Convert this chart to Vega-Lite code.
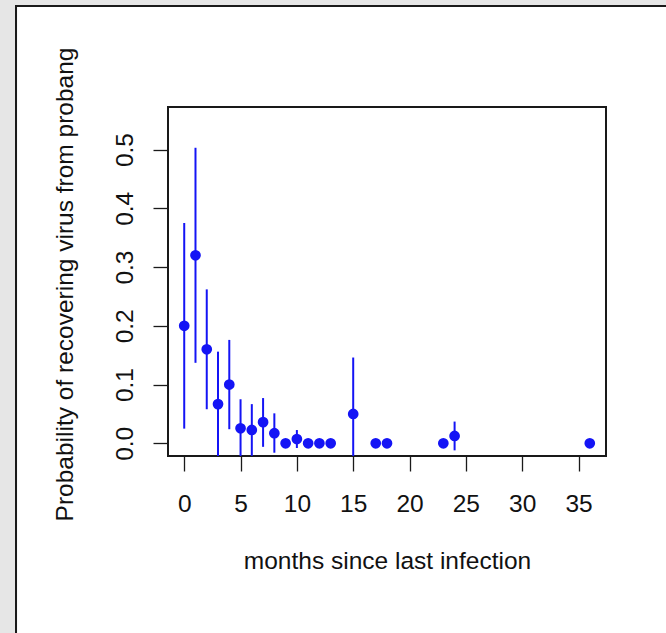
{
  "$schema": "https://vega.github.io/schema/vega-lite/v6.json",
  "width": 438,
  "height": 349,
  "autosize": {"type": "none"},
  "padding": {"left": 168, "top": 107, "right": 60, "bottom": 177},
  "background": "#e6e6e6",
  "config": {
    "view": {"stroke": null},
    "font": "Liberation Sans",
    "axis": {
      "grid": false,
      "domain": false,
      "tickColor": "#1a1a1a",
      "tickWidth": 1.3,
      "tickSize": 15,
      "labelFont": "Liberation Sans",
      "labelFontSize": 24.5,
      "labelColor": "#111111",
      "titleFont": "Liberation Sans",
      "titleFontSize": 24.5,
      "titleFontWeight": "normal",
      "titleColor": "#111111"
    }
  },
  "data": {
    "values": [
      {"month": 0, "p": 0.2, "lo": 0.025, "hi": 0.375},
      {"month": 1, "p": 0.32, "lo": 0.137, "hi": 0.503},
      {"month": 2, "p": 0.16, "lo": 0.058, "hi": 0.262},
      {"month": 3, "p": 0.0667, "lo": -0.022, "hi": 0.156},
      {"month": 4, "p": 0.1, "lo": 0.024, "hi": 0.176},
      {"month": 5, "p": 0.0256, "lo": -0.024, "hi": 0.075},
      {"month": 6, "p": 0.0227, "lo": -0.0213, "hi": 0.0667},
      {"month": 7, "p": 0.036, "lo": -0.006, "hi": 0.077},
      {"month": 8, "p": 0.0172, "lo": -0.016, "hi": 0.051},
      {"month": 9, "p": 0, "lo": 0, "hi": 0},
      {"month": 10, "p": 0.0073, "lo": -0.008, "hi": 0.0226},
      {"month": 11, "p": 0, "lo": 0, "hi": 0},
      {"month": 12, "p": 0, "lo": 0, "hi": 0},
      {"month": 13, "p": 0, "lo": 0, "hi": 0},
      {"month": 15, "p": 0.05, "lo": -0.046, "hi": 0.146},
      {"month": 17, "p": 0, "lo": 0, "hi": 0},
      {"month": 18, "p": 0, "lo": 0, "hi": 0},
      {"month": 23, "p": 0, "lo": 0, "hi": 0},
      {"month": 24, "p": 0.0125, "lo": -0.012, "hi": 0.037},
      {"month": 36, "p": 0, "lo": 0, "hi": 0}
    ]
  },
  "layer": [
    {
      "description": "white figure panel with its dark outline",
      "mark": {"type": "rect", "fill": "white", "stroke": "#1a1a1a", "strokeWidth": 2, "clip": false},
      "encoding": {
        "x": {"datum": -14.93, "type": "quantitative", "title": "months since last infection", "scale": {"domain": [-1.44, 37.44], "nice": false, "zero": false}, "axis": {"zindex": 1}},
        "x2": {"datum": 46},
        "y": {"datum": 0.7442, "type": "quantitative", "title": "Probability of recovering virus from probang", "scale": {"domain": [-0.0216, 0.5724], "nice": false, "zero": false}, "axis": {"zindex": 1}},
        "y2": {"datum": -0.4}
      }
    },
    {
      "description": "box around the plotting region",
      "mark": {"type": "rect", "fill": null, "fillOpacity": 0, "stroke": "#1a1a1a", "strokeWidth": 1.5, "clip": false},
      "encoding": {
        "x": {"datum": -1.44, "type": "quantitative", "title": "months since last infection", "axis": {"zindex": 1}},
        "x2": {"datum": 37.44},
        "y": {"datum": -0.0216, "type": "quantitative", "title": "Probability of recovering virus from probang", "axis": {"zindex": 1}},
        "y2": {"datum": 0.5724}
      }
    },
    {
      "mark": {"type": "rule", "color": "#1414f5", "strokeWidth": 2, "clip": true},
      "encoding": {
        "x": {"field": "month", "type": "quantitative", "title": "months since last infection", "axis": {"zindex": 1}},
        "y": {"field": "lo", "type": "quantitative", "title": "Probability of recovering virus from probang", "axis": {"zindex": 1}},
        "y2": {"field": "hi"}
      }
    },
    {
      "mark": {"type": "circle", "color": "#1414f5", "opacity": 1, "size": 115},
      "encoding": {
        "x": {
          "field": "month",
          "type": "quantitative",
          "title": "months since last infection",
          "axis": {
            "zindex": 1,
            "values": [0, 5, 10, 15, 20, 25, 30, 35],
            "labelBaseline": "middle",
            "labelPadding": 33,
            "titleBaseline": "alphabetic",
            "titleY": 112.5
          }
        },
        "y": {
          "field": "p",
          "type": "quantitative",
          "title": "Probability of recovering virus from probang",
          "axis": {
            "zindex": 1,
            "values": [0, 0.1, 0.2, 0.3, 0.4, 0.5],
            "format": ".1f",
            "labelAngle": -90,
            "labelAlign": "center",
            "labelBaseline": "middle",
            "labelPadding": 28,
            "titleBaseline": "alphabetic",
            "titleX": -96,
            "titleY": 177
          }
        }
      }
    }
  ]
}
